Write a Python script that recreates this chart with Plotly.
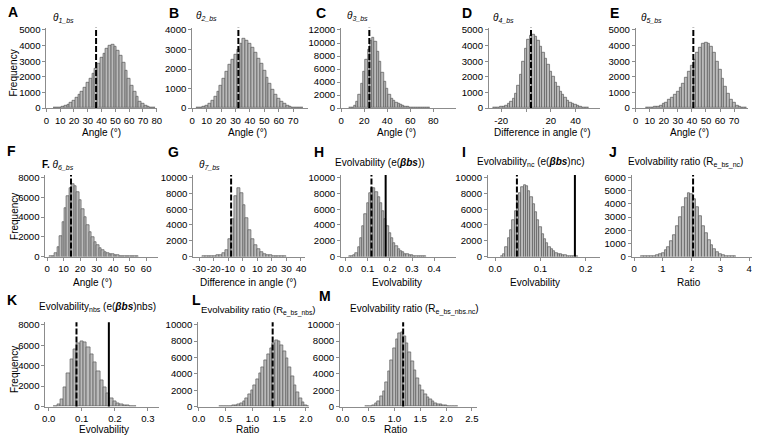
import plotly.graph_objects as go

# ---------------- data ----------------
A_start, A_width = 6, 2
A_counts = [10, 20, 50, 90, 150, 230, 340, 480, 650, 850, 1080, 1330, 1600, 1880, 2180, 2500,
            2850, 3200, 3500, 3780, 3980, 4050, 3950, 3700, 3350, 2900, 2400, 1900, 1450, 1050,
            700, 430, 250, 130, 60, 25, 10]
A_obs = 36

B_start, B_width = 4, 2
B_counts = [10, 25, 60, 120, 220, 370, 580, 850, 1150, 1500, 1850, 2200, 2500, 2750, 3000, 3300,
            3550, 3450, 3300, 3100, 2850, 2550, 2250, 1900, 1580, 1250, 950, 700, 500, 330, 210,
            130, 75, 40, 20, 10, 5]
B_obs = 32

C_start, C_width = 8, 2
C_counts = [30, 100, 350, 1000, 2100, 3700, 5600, 7400, 9000, 10300, 10900, 10200, 8700, 7100,
            5500, 4100, 3000, 2100, 1500, 1100, 800, 600, 450, 330, 250, 180, 130, 95, 70, 50, 35,
            25, 15, 10, 5]
C_obs = 24.5

D_start, D_width = -26, 2
D_counts = [10, 20, 40, 70, 110, 170, 260, 400, 620, 950, 1450, 2150, 3000, 3800, 4350, 4650,
            4700, 4550, 4300, 3950, 3550, 3150, 2750, 2350, 1980, 1650, 1350, 1080, 850, 660, 500,
            370, 270, 190, 130, 85, 55, 35, 20]
D_obs = 4

E_start, E_width = 8, 2
E_counts = [10, 20, 35, 60, 100, 160, 250, 370, 520, 680, 860, 1060, 1300, 1580, 1920, 2300,
            2700, 3100, 3550, 3900, 4120, 4200, 4150, 3950, 3550, 3000, 2450, 1900, 1350, 900,
            560, 320, 170, 80, 35, 15]
E_obs = 41

F_start, F_width = 2.25, 1.5
F_counts = [20, 100, 350, 1000, 2100, 3500, 4900, 6100, 6900, 7300, 7150, 6550, 5750, 4850, 4000,
            3200, 2500, 1950, 1500, 1150, 870, 650, 490, 370, 280, 210, 160, 120, 90, 65, 50, 35,
            25, 18, 12, 8]
F_obs = 14.5

G_start, G_width = -27, 2
G_counts = [5, 10, 20, 40, 70, 130, 240, 450, 850, 2200, 4800, 7600, 8650, 8000, 6500, 4900,
            3400, 2200, 1400, 900, 580, 370, 230, 140, 85, 50, 30, 15, 8]
G_obs = -8

H_start, H_width = 0.02, 0.01
H_counts = [20, 60, 150, 450, 1200, 2400, 3900, 5400, 6800, 8000, 8700, 8600, 8200, 7500, 6700,
            5800, 4800, 3800, 3000, 2300, 1750, 1300, 950, 700, 520, 380, 280, 200, 140, 100, 70,
            50, 35, 25, 15]
H_obs, H_ref = 0.117, 0.181

I_start, I_width = 0.015, 0.005
I_counts = [50, 350, 1200, 2300, 3400, 4600, 5800, 7000, 8000, 8800, 9050, 8850, 8300, 7500, 6600,
            5600, 4600, 3700, 2900, 2200, 1650, 1200, 900, 680, 500, 370, 270, 190, 130, 90, 60,
            40, 25, 15]
I_obs, I_ref = 0.048, 0.176

J_start, J_width = 0.3, 0.1
J_counts = [5, 10, 20, 40, 70, 120, 190, 300, 480, 750, 1150, 1650, 2300, 3000, 3750, 4400, 4800,
            4750, 4350, 3750, 3050, 2350, 1750, 1250, 850, 560, 350, 220, 130, 75, 40, 20, 10]
J_obs = 2.05

K_start, K_width = 0.02, 0.01
K_counts = [30, 200, 750, 1900, 3300, 4600, 5600, 6150, 6400, 6250, 5800, 5100, 4300, 3400, 2600,
            1900, 1300, 850, 550, 350, 220, 130, 80, 45, 25]
K_obs, K_ref = 0.084, 0.182

L_start, L_width = 0.4, 0.05
L_counts = [10, 20, 30, 50, 80, 130, 200, 300, 450, 700, 1000, 1450, 2000, 2650, 3350, 4100, 4850,
            5600, 6400, 7100, 7700, 8150, 8000, 7500, 6800, 5900, 4800, 3700, 2600, 1700, 1000,
            500, 200, 60]
L_obs = 1.38

M_start, M_width = 0.45, 0.05
M_counts = [10, 30, 70, 150, 350, 700, 1200, 1900, 3000, 4300, 5700, 7100, 8200, 8900, 9100, 8600,
            7700, 6600, 5500, 4400, 3400, 2600, 2000, 1500, 1150, 850, 620, 450, 320, 220, 150,
            100, 65, 40, 25, 15]
M_obs = 1.17

# tick labels
A_xticks = [0, 10, 20, 30, 40, 50, 60, 70, 80]
B_xticks = [0, 10, 20, 30, 40, 50, 60, 70]
C_xticks = [0, 20, 40, 60, 80]
D_xticks = [-20, 0, 20, 40]
D_xtext = ["-20", "", "20", "40"]
E_xticks = [0, 10, 20, 30, 40, 50, 60, 70]
F_xticks = [0, 10, 20, 30, 40, 50, 60]
G_xticks = [-30, -20, -10, 0, 10, 20, 30, 40]
H_xticks = [0.0, 0.1, 0.2, 0.3, 0.4]
I_xticks = [0.0, 0.1, 0.2]
J_xticks = [0, 1, 2, 3, 4]
K_xticks = [0.0, 0.1, 0.2, 0.3]
L_xticks = [0.0, 0.5, 1.0, 1.5, 2.0]
M_xticks = [0.0, 0.5, 1.0, 1.5, 2.0, 2.5]

# ---------------- styling ----------------
FONT = "Liberation Sans, Arial, sans-serif"
W, H = 760, 440
BAR_FILL = "#bababa"
BAR_EDGE = "#5a5a5a"
AXIS = "#8c8c8c"
TICK_SIZE = 9.6
ROWS = [(107, 27.5), (258.3, 177.7), (411, 327.7)]  # (pixel of 0, pixel of top tick)


def fmt(v, dec):
    return f"{v:.{dec}f}"


panels = [
    dict(L="A", start=A_start, width=A_width, counts=A_counts, obs=A_obs, ref=None, xr=[0, 80],
         px=(41, 153), row=0, ymax=5000, ydt=1000, xt=A_xticks, xtt=[str(v) for v in A_xticks]),
    dict(L="B", start=B_start, width=B_width, counts=B_counts, obs=B_obs, ref=None, xr=[0, 80],
         px=(189, 306), row=0, ymax=4000, ydt=1000, xt=B_xticks, xtt=[str(v) for v in B_xticks]),
    dict(L="C", start=C_start, width=C_width, counts=C_counts, obs=C_obs, ref=None, xr=[0, 100],
         px=(340, 457), row=0, ymax=12000, ydt=2000, xt=C_xticks, xtt=[str(v) for v in C_xticks]),
    dict(L="D", start=D_start, width=D_width, counts=D_counts, obs=D_obs, ref=None, xr=[-30, 60],
         px=(490, 603), row=0, ymax=5000, ydt=1000, xt=D_xticks, xtt=D_xtext),
    dict(L="E", start=E_start, width=E_width, counts=E_counts, obs=E_obs, ref=None, xr=[0, 80],
         px=(639, 753), row=0, ymax=5000, ydt=1000, xt=E_xticks, xtt=[str(v) for v in E_xticks]),
    dict(L="F", start=F_start, width=F_width, counts=F_counts, obs=F_obs, ref=None, xr=[-1, 67],
         px=(40, 154), row=1, ymax=8000, ydt=2000, xt=F_xticks, xtt=[str(v) for v in F_xticks]),
    dict(L="G", start=G_start, width=G_width, counts=G_counts, obs=G_obs, ref=None, xr=[-34, 42.5],
         px=(190, 303), row=1, ymax=10000, ydt=2000, xt=G_xticks, xtt=[str(v) for v in G_xticks]),
    dict(L="H", start=H_start, width=H_width, counts=H_counts, obs=H_obs, ref=H_ref, xr=[-0.02, 0.5],
         px=(340, 457), row=1, ymax=10000, ydt=2000, xt=H_xticks, xtt=[fmt(v, 1) for v in H_xticks]),
    dict(L="I", start=I_start, width=I_width, counts=I_counts, obs=I_obs, ref=I_ref, xr=[-0.016, 0.232],
         px=(489, 603), row=1, ymax=10000, ydt=2000, xt=I_xticks, xtt=[fmt(v, 1) for v in I_xticks]),
    dict(L="J", start=J_start, width=J_width, counts=J_counts, obs=J_obs, ref=None, xr=[-0.08, 4.1],
         px=(635, 757), row=1, ymax=6000, ydt=1000, xt=J_xticks, xtt=[str(v) for v in J_xticks]),
    dict(L="K", start=K_start, width=K_width, counts=K_counts, obs=K_obs, ref=K_ref, xr=[-0.01, 0.333],
         px=(40, 155), row=2, ymax=8000, ydt=2000, xt=K_xticks, xtt=[fmt(v, 1) for v in K_xticks]),
    dict(L="L", start=L_start, width=L_width, counts=L_counts, obs=L_obs, ref=None, xr=[-0.01, 2.05],
         px=(195, 307), row=2, ymax=10000, ydt=2000, xt=L_xticks, xtt=[fmt(v, 1) for v in L_xticks]),
    dict(L="M", start=M_start, width=M_width, counts=M_counts, obs=M_obs, ref=None, xr=[-0.05, 2.6],
         px=(339, 478), row=2, ymax=10000, ydt=2000, xt=M_xticks, xtt=[fmt(v, 1) for v in M_xticks]),
]

fig = go.Figure()
layout = dict(width=W, height=H, margin=dict(l=0, r=0, t=0, b=0), showlegend=False,
              plot_bgcolor="white", paper_bgcolor="white", bargap=0,
              font=dict(family=FONT, size=10, color="black"))
shapes = []

for i, p in enumerate(panels, start=1):
    s = "" if i == 1 else str(i)
    xs = [p["start"] + k * p["width"] for k in range(len(p["counts"]))]
    fig.add_trace(go.Bar(x=xs, y=p["counts"], width=p["width"],
                         marker=dict(color=BAR_FILL, line=dict(color=BAR_EDGE, width=0.7)),
                         xaxis="x" + s, yaxis="y" + s, hoverinfo="skip"))
    y0px, ytpx = ROWS[p["row"]]
    ytop_px = y0px - (y0px - ytpx) * 1.03
    yvals = list(range(0, p["ymax"] + 1, p["ydt"]))
    layout["xaxis" + s] = dict(domain=[p["px"][0] / W, p["px"][1] / W], range=p["xr"],
                               anchor="y" + s, showline=True, linecolor=AXIS, linewidth=1,
                               ticks="outside", ticklen=3, tickcolor=AXIS, tickvals=p["xt"],
                               ticktext=p["xtt"], tickangle=0, showgrid=False, zeroline=False,
                               tickfont=dict(size=TICK_SIZE, family=FONT))
    layout["yaxis" + s] = dict(domain=[1 - y0px / H, 1 - ytop_px / H], range=[0, p["ymax"] * 1.03],
                               anchor="x" + s, showline=True, linecolor=AXIS, linewidth=1,
                               ticks="outside", ticklen=3, tickcolor=AXIS,
                               tickvals=yvals, ticktext=[str(v) for v in yvals],
                               showgrid=False, zeroline=False,
                               tickfont=dict(size=TICK_SIZE, family=FONT))
    shapes.append(dict(type="line", xref="x" + s, yref="y" + s + " domain", x0=p["obs"], x1=p["obs"],
                       y0=0, y1=1, line=dict(color="black", width=2, dash="6px,2px")))
    if p["ref"] is not None:
        shapes.append(dict(type="line", xref="x" + s, yref="y" + s + " domain", x0=p["ref"],
                           x1=p["ref"], y0=0, y1=1, line=dict(color="black", width=2)))

layout["shapes"] = shapes

ann = []


def add(text, x, y, size=10, xanchor="center", angle=0):
    ann.append(dict(text=text, x=x / W, y=1 - y / H, xref="paper", yref="paper", showarrow=False,
                    xanchor=xanchor, yanchor="middle", textangle=angle,
                    font=dict(size=size, family=FONT, color="black")))


letters = [("A", 7, 9), ("B", 170, 10), ("C", 320, 10), ("D", 468, 10), ("E", 617, 10),
           ("F", 6, 151), ("G", 170, 152), ("H", 318, 152), ("I", 465, 152), ("J", 616, 152),
           ("K", 6, 303), ("L", 193, 303), ("M", 324, 298)]
for t, x, y in letters:
    add("<b>" + t + "</b>", x, y, size=14)

add("<i>θ<sub>1_bs</sub></i>", 46, 15, xanchor="left")
add("<i>θ<sub>2_bs</sub></i>", 191, 13, xanchor="left")
add("<i>θ<sub>3_bs</sub></i>", 344, 13, xanchor="left")
add("<i>θ<sub>4_bs</sub></i>", 492, 15, xanchor="left")
add("<i>θ<sub>5_bs</sub></i>", 642, 15, xanchor="left")
add("<b>F.</b> <i>θ<sub>6_bs</sub></i>", 34, 165, xanchor="left")
add("<i>θ<sub>7_bs</sub></i>", 194, 165, xanchor="left")
add("Evolvability (e(<b><i>βbs</i></b>))", 379, 162)
add("Evolvability<sub>nc</sub> (e(<b><i>βbs</i></b>)nc)", 533, 162)
add("Evolvability ratio (R<sub>e_bs_nc</sub>)", 689, 162)
add("Evolvability<sub>nbs</sub> (e(<b><i>βbs</i></b>)nbs)", 93, 310)
add("Evolvability ratio (R<sub>e_bs_nbs</sub>)", 256, 313, size=9.6)
add("Evolvability ratio (R<sub>e_bs_nbs.nc</sub>)", 347, 312, xanchor="left")

for t, x, y in [("Angle (°)", 97, 132), ("Angle (°)", 245, 132), ("Angle (°)", 396, 132),
                ("Difference in angle (°)", 544, 132), ("Angle (°)", 694, 132),
                ("Angle (°)", 88, 285), ("Difference in angle (°)", 246, 285),
                ("Evolvability", 397, 285), ("Evolvability", 537, 285), ("Ratio", 693, 285),
                ("Evolvability", 99, 434), ("Ratio", 246, 434), ("Ratio", 396, 434)]:
    add(t, x, y, size=10)

for y in (71, 217, 373):
    add("Frequency", 8, y, size=10, angle=-90)

layout["annotations"] = ann
fig.update_layout(**layout)
fig.write_html("out.html", config={"displayModeBar": False},
               post_script="document.body.style.margin='0';document.body.style.overflow='hidden';")
